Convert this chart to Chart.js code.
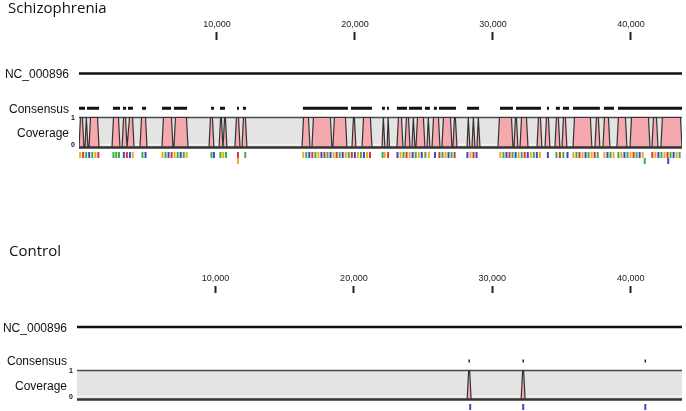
<!DOCTYPE html>
<html lang="en">
<head>
<meta charset="UTF-8">
<title>Schizophrenia / Control coverage</title>
<script src="https://cdn.jsdelivr.net/npm/chart.js"></script>
<style>
  body { margin: 0; background: #fff; width: 686px; height: 411px; overflow: hidden; }
  canvas { position: absolute; left: 0; }
</style>
</head>
<body>
<canvas id="top" width="686" height="206" style="top:0"></canvas>
<canvas id="bottom" width="686" height="205" style="top:206px"></canvas>
<script>
// genome length (bp) and axis ticks
const GENOME_LEN = 43700;
const tickValues = [10000, 20000, 30000, 40000];

// Schizophrenia: covered intervals [start, end] in bp
const scCoverage = [
  [0, 360], [435, 650], [725, 1450], [2390, 2970], [3120, 3480], [3550, 3990],
  [4420, 4930], [6010, 6810], [6880, 7900], [9420, 9780], [10150, 10430],
  [10440, 10720], [11300, 11670], [11810, 12170], [16160, 16740], [16880, 18330],
  [18400, 19420], [19780, 20070], [20510, 21230], [21960, 22170], [22330, 22500],
  [23040, 23480], [23620, 23990], [24130, 24350], [24420, 25070], [25220, 25430],
  [25580, 26160], [26300, 27030], [27100, 27390], [28120, 28330], [28480, 28700],
  [28840, 29060], [30360, 31450], [31520, 31810], [31960, 32540], [33190, 33550],
  [33770, 34130], [34490, 34850], [35000, 35360], [35800, 37170], [37390, 37750],
  [37970, 38480], [38980, 39710], [39930, 41380], [41520, 41960], [42170, 43700]
];
// Schizophrenia: consensus segments
const scConsensus = [
  [0, 435], [580, 1450], [2460, 2970], [3190, 3410], [3550, 3910], [4570, 4860],
  [6010, 6670], [6880, 7830], [9570, 9780], [10220, 10580], [11450, 11590],
  [11880, 12100], [16230, 19490], [19710, 21230], [21960, 22170], [22320, 22460],
  [23040, 23770], [23910, 24860], [25070, 25430], [25720, 25940], [26090, 27320],
  [28120, 28990], [30510, 31450], [31670, 33480], [33910, 34060], [34560, 34850],
  [35070, 35510], [35800, 37750], [38040, 38770], [39060, 43700]
];
// Schizophrenia: variant positions by base
const scVarA = [520, 960, 2500, 2700, 2900, 4600, 6270, 7150, 7590, 9600, 10250, 10650,
  12050, 16470, 17130, 18010, 18890, 19550, 20430, 22000, 23520, 24400, 25100, 26340,
  27000, 30760, 31420, 32080, 32960, 34600, 35100, 36050, 36930, 37590, 38520, 39090,
  39750, 40410, 42210, 42870, 43530];
const scVarC = [740, 3250, 3690, 4820, 6490, 7370, 9780, 16690, 17570, 18230, 19110,
  19990, 20650, 23080, 24180, 24840, 25800, 26780, 28150, 28810, 30980, 31640, 32520,
  33180, 33980, 35400, 36710, 38300, 39530, 40630, 41990, 43090];
const scVarG = [80, 1180, 3900, 6050, 6930, 7800, 10450, 16250, 17350, 18450, 19330,
  20210, 20870, 22150, 23300, 23960, 24620, 25350, 26560, 28370, 30540, 31860, 32740,
  33400, 35830, 36490, 37150, 38080, 38740, 39310, 39970, 40850, 41770, 42430, 43310];
const scVarT = [300, 1400, 3470, 6710, 11520, 16910, 17790, 18670, 19770, 21090, 22400,
  23740, 26120, 27220, 28590, 31200, 32300, 34850, 36270, 37370, 40190, 41550, 42650];
// second (stacked) variant row
const scVar2A = [41000];
const scVar2C = [42700];
const scVar2G = [11520];

// Control
const ctlCoverage = [[28180, 28470], [32080, 32370]];
const ctlConsensus = [[28280, 28380], [32180, 32280], [41000, 41100]];
const ctlVarC = [28400, 32230, 41050];

const baseColors = { A: '#3fae44', C: '#3b48c8', G: '#eeaa22', T: '#dd3535' };
const RAMP = 110;

function coverageProfile(intervals) {
  const pts = [{ x: 0, y: 0 }];
  intervals.forEach(([s, e]) => {
    const r = Math.min(RAMP, (e - s) / 2 - 10);
    pts.push({ x: s, y: 0 }, { x: s + r, y: 1 }, { x: e - r, y: 1 }, { x: e, y: 0 });
  });
  pts.push({ x: GENOME_LEN, y: 0 });
  return pts;
}

function segments(intervals, level) {
  const pts = [];
  intervals.forEach(([s, e]) => {
    pts.push({ x: s, y: level }, { x: e, y: level }, { x: e, y: null });
  });
  return pts;
}

function variantSet(positions, base, level) {
  return {
    data: positions.map(p => ({ x: p, y: level })),
    showLine: false,
    pointStyle: 'line',
    pointRotation: 90,
    pointRadius: 3,
    pointBorderWidth: 2,
    pointBorderColor: baseColors[base],
    pointBackgroundColor: baseColors[base],
    order: 0
  };
}

// titles and row labels
const trackLabels = {
  id: 'trackLabels',
  afterDraw(chart, args, o) {
    const { ctx, chartArea, scales: { y } } = chart;
    ctx.save();
    ctx.fillStyle = '#111';
    ctx.font = '15px "Open Sans", sans-serif';
    ctx.textAlign = 'left';
    ctx.textBaseline = 'alphabetic';
    ctx.fillText(o.title, o.titleX, o.titleY);

    ctx.font = '12px "Liberation Sans", Arial, sans-serif';
    ctx.textAlign = 'right';
    ctx.textBaseline = 'middle';
    const lx = chartArea.left - 10;
    ctx.fillText('NC_000896', lx, y.getPixelForValue(o.rows.genome) + 1.5);
    ctx.fillText('Consensus', lx, y.getPixelForValue(o.rows.consensus) + 1);
    ctx.fillText('Coverage', lx, y.getPixelForValue(0.45));

    ctx.font = 'bold 7px "Liberation Sans", Arial, sans-serif';
    ctx.textAlign = 'center';
    ctx.fillText('1', chartArea.left - 6, y.getPixelForValue(1) + 1);
    ctx.fillText('0', chartArea.left - 6, y.getPixelForValue(0) - 2);
    ctx.restore();
  }
};

function makePanel(id, cfg) {
  const rows = cfg.rows;
  const datasets = [
    { // reference genome line
      data: [{ x: 0, y: rows.genome }, { x: GENOME_LEN, y: rows.genome }],
      borderColor: '#111', borderWidth: 2.5, pointRadius: 0, order: 1
    },
    { // consensus
      data: segments(cfg.consensus, rows.consensus),
      borderColor: '#111', borderWidth: 3, borderCapStyle: 'butt',
      pointRadius: 0, spanGaps: false, order: 2
    },
    { // coverage base line
      data: [{ x: 0, y: 0 }, { x: GENOME_LEN, y: 0 }],
      borderColor: '#333', borderWidth: 2.5, pointRadius: 0, order: 3
    },
    { // coverage profile
      data: coverageProfile(cfg.coverage),
      borderColor: '#333', borderWidth: 1.2, backgroundColor: '#f5a9ae',
      fill: 'origin', pointRadius: 0, order: 4
    },
    { // light strip above base line
      data: [{ x: 0, y: 0.1 }, { x: GENOME_LEN, y: 0.1 }],
      borderColor: '#f4f4f4', borderWidth: 1.5, pointRadius: 0, order: 5
    },
    { // gray coverage band
      data: [{ x: 0, y: 1 }, { x: GENOME_LEN, y: 1 }],
      borderColor: '#4a4a4a', borderWidth: 1.5, backgroundColor: '#e4e4e4',
      fill: { value: 0 }, pointRadius: 0, order: 6
    }
  ];
  cfg.variants.forEach(v => datasets.push(variantSet(v[0], v[1], v[2])));

  return new Chart(document.getElementById(id), {
    type: 'line',
    data: { datasets },
    options: {
      responsive: false,
      animation: false,
      devicePixelRatio: 1,
      layout: { padding: cfg.padding, autoPadding: false },
      plugins: {
        legend: { display: false },
        tooltip: { enabled: false },
        trackLabels: { title: cfg.title, titleX: cfg.titleX, titleY: cfg.titleY, rows }
      },
      scales: {
        x: {
          type: 'linear', position: 'top', min: 0, max: GENOME_LEN,
          afterBuildTicks: s => { s.ticks = tickValues.map(v => ({ value: v })); },
          afterFit: s => { s.height = 30; },
          border: { display: false },
          grid: { drawOnChartArea: false, tickLength: cfg.tickLen, tickWidth: 2, tickColor: '#222' },
          ticks: {
            padding: 2, color: '#222', maxRotation: 0, autoSkip: false,
            font: { family: '"Liberation Sans", Arial, sans-serif', size: 9 },
            callback: v => v.toLocaleString('en-US')
          }
        },
        y: { display: false, min: rows.yMin, max: rows.yMax }
      }
    },
    plugins: [trackLabels]
  });
}

makePanel('top', {
  title: 'Schizophrenia', titleX: 8, titleY: 13,
  padding: { left: 79, right: 4, top: 10, bottom: 36 },
  tickLen: 8,
  rows: { genome: 2.47, consensus: 1.31, yMin: -0.75, yMax: 3.583 },
  coverage: scCoverage,
  consensus: scConsensus,
  variants: [
    [scVarA, 'A', -0.25], [scVarC, 'C', -0.25], [scVarG, 'G', -0.25], [scVarT, 'T', -0.25],
    [scVar2A, 'A', -0.45], [scVar2C, 'C', -0.45], [scVar2G, 'G', -0.45]
  ]
});

makePanel('bottom', {
  title: 'Control', titleX: 9, titleY: 50,
  padding: { left: 77, right: 4, top: 57, bottom: 0 },
  tickLen: 7,
  rows: { genome: 2.5, consensus: 1.328, yMin: -0.397, yMax: 3.672 },
  coverage: ctlCoverage,
  consensus: ctlConsensus,
  variants: [[ctlVarC, 'C', -0.259]]
});
</script>
</body>
</html>
